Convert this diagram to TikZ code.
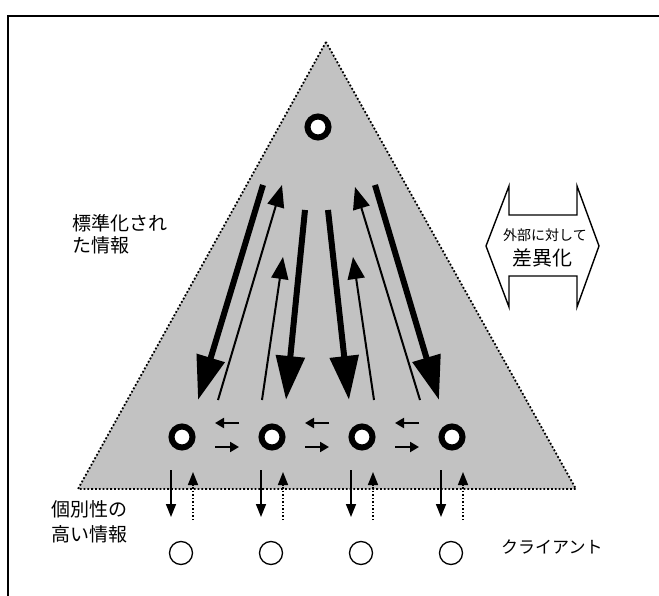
\documentclass[tikz,border=0pt]{standalone}
\usepackage{fontspec}
\newfontfamily\jp{Noto Sans CJK JP}
\usetikzlibrary{arrows.meta}
\begin{document}
\begin{tikzpicture}[x=1pt,y=-1pt,
  ring/.style={circle, draw, line width=6pt, minimum size=21pt, inner sep=0pt, fill=white},
  client/.style={circle, draw, line width=1.3pt, minimum size=23pt, inner sep=0pt},
  thickarr/.style={line width=6pt, -{Triangle[length=44pt,width=28pt]}},
  thinarr/.style={line width=2pt, -{Triangle[length=22pt,width=17pt]}},
  smallarr/.style={line width=2pt, -{Triangle[length=9pt,width=10pt]}},
  downarr/.style={line width=1.5pt, -{Triangle[length=13pt,width=10pt]}},
  uparr/.style={line width=1.5pt, dotted, -{Triangle[length=13pt,width=10pt]}},
  lbl/.style={font=\jp\fontsize{19}{22}\selectfont, align=left, inner sep=0pt},
  frameline/.style={line width=1.4pt}
]
\useasboundingbox (0,0) rectangle (659,596);
% frame
\coordinate (fbl) at (8,596);
\coordinate (ftl) at (8,16);
\coordinate (ftr) at (659,16);
\draw[frameline] (fbl) -- (ftl) -- (ftr);
% triangle
\coordinate (apex) at (326,42);
\coordinate (tbl) at (78,489);
\coordinate (tbr) at (576,489);
\fill[black!24] (apex) -- (tbl) -- (tbr) -- cycle;
\draw[dotted, line width=1.8pt] (apex) -- (tbl) -- (tbr) -- cycle;
% rings
\node[ring] (top) at (318,127) {};
\foreach \i/\x in {1/182,2/272,3/362,4/452}{
  \node[ring] (r\i) at (\x,437) {};
  \node[client] (c\i) at (\x-1,553) {};
  \coordinate (d\i a) at (\x-11,470);
  \coordinate (d\i b) at (\x-11,517);
  \coordinate (u\i a) at (\x+11,520);
  \coordinate (u\i b) at (\x+11,472);
  \draw[downarr] (d\i a) -- (d\i b);
  \draw[uparr] (u\i a) -- (u\i b);
}
% small horizontal arrows
\foreach \i/\x in {1/227,2/317,3/407}{
  \coordinate (hl\i a) at (\x+12,423);
  \coordinate (hl\i b) at (\x-12,423);
  \coordinate (hr\i a) at (\x-12,447);
  \coordinate (hr\i b) at (\x+12,447);
  \draw[smallarr] (hl\i a) -- (hl\i b);
  \draw[smallarr] (hr\i a) -- (hr\i b);
}
% thick downward arrows
\coordinate (T1a) at (263,185); \coordinate (T1b) at (198,400);
\coordinate (T2a) at (305,210); \coordinate (T2b) at (286,400);
\coordinate (T3a) at (328,210); \coordinate (T3b) at (349,400);
\coordinate (T4a) at (375,185); \coordinate (T4b) at (439,400);
\foreach \i in {1,...,4}{\draw[thickarr] (T\i a) -- (T\i b);}
% thin upward arrows
\coordinate (Aa) at (218,400); \coordinate (Ab) at (282,185);
\coordinate (Ba) at (262,400); \coordinate (Bb) at (283,257);
\coordinate (Ca) at (374,400); \coordinate (Cb) at (353,257);
\coordinate (Da) at (420,400); \coordinate (Db) at (355,187);
\foreach \i in {A,B,C,D}{\draw[thinarr] (\i a) -- (\i b);}
% double arrow
\draw[line width=1.4pt, fill=white]
  (486,246) -- (509,186) -- (509,215) -- (577,215) -- (577,186) -- (599,246)
  -- (577,307) -- (577,276) -- (509,276) -- (509,307) -- cycle;
\node[font=\jp\fontsize{14}{16}\selectfont, inner sep=0pt] (ext1) at (545,235) {外部に対して};
\node[font=\jp\fontsize{20}{22}\selectfont, inner sep=0pt] (ext2) at (542,258) {差異化};
% labels
\node[lbl, anchor=west] (std) at (72,234) {標準化され\\た情報};
\node[lbl, anchor=west, font=\jp\fontsize{19}{25}\selectfont] (ind) at (51,522) {個別性の\\高い情報};
\node[font=\jp\fontsize{17}{20}\selectfont, inner sep=0pt, anchor=west] (cl) at (501,547) {クライアント};
\end{tikzpicture}
\end{document}
